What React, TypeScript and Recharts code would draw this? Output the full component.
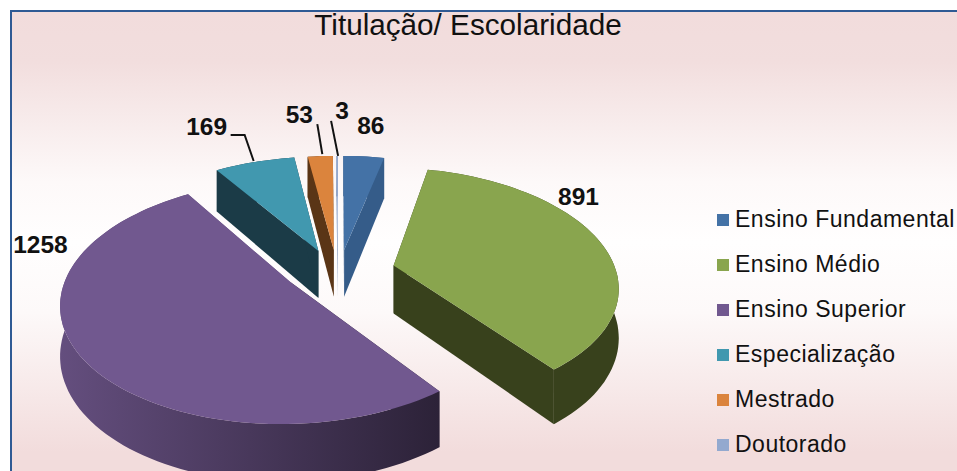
import { Legend, Pie, PieChart } from "recharts";

const names = ["Ensino Fundamental", "Ensino Médio", "Ensino Superior", "Especialização", "Mestrado", "Doutorado"];
const values = [86, 891, 1258, 169, 53, 3];
const topColors = ["#4472a6", "#89a54e", "#71588f", "#4198af", "#db843d", "#93a9cf"];
const wallFrom = ["#355c89", "#38411c", "#644e7e", "#1b3b47", "#5a3516", "#7f93b8"];
const wallTo = ["#355c89", "#38411c", "#2c2238", "#1b3b47", "#5a3516", "#7f93b8"];

// label placement relative to the rim of each slice
const labelDx = [7, -22, -41, -48, -21, 5];
const labelDy = [-22, -37, -104, -27, -33, -37];
const leaders: (string | null)[] = [
  null,
  null,
  null,
  "24,0 38,0 47,26",
  "18,1 23,31",
  "-11,2 -4,37",
];

const data = names.map((name, i) => ({ name, value: values[i], fill: topColors[i] }));

// 3D look: ground plane projected with a little perspective
const CX = 338;
const CY = 270;
const RX = 222;
const RY = 115;
const PERSP = 0.16;
const DEPTH = 48;
const EXPLODE_X = 0.258;
const EXPLODE_Y = 0.18;
const rad = Math.PI / 180;

const project = (u: number, v: number, down = 0): [number, number] => {
  const s = 1 / (1 - PERSP * v);
  return [CX + u * RX * s, CY + v * RY * s + down * s];
};

const apex = (mid: number): [number, number] => [EXPLODE_X * Math.sin(mid * rad), -EXPLODE_Y * Math.cos(mid * rad)];

const rim = (mid: number, a: number, down = 0) => {
  const [u, v] = apex(mid);
  return project(u + Math.sin(a * rad), v - Math.cos(a * rad), down);
};

const toPath = (pts: [number, number][]) =>
  "M" + pts.map((p) => p[0].toFixed(1) + " " + p[1].toFixed(1)).join("L") + "Z";

const Slice3D = (props: any) => {
  const i = names.indexOf(props.name);
  // recharts angles run counter-clockwise from 3 o'clock
  const a0 = 90 - props.startAngle;
  const a1 = 90 - props.endAngle;
  const mid = (a0 + a1) / 2;
  const steps = Math.max(2, Math.ceil((a1 - a0) / 2));
  const angles = Array.from({ length: steps + 1 }, (_, k) => a0 + ((a1 - a0) * k) / steps);
  const [au, av] = apex(mid);
  const topApex = project(au, av);
  const lowApex = project(au, av, DEPTH);
  const arcTop = angles.map((a) => rim(mid, a));
  const arcLow = angles.map((a) => rim(mid, a, DEPTH)).reverse();
  const id = "wall" + i;
  return (
    <g>
      <defs>
        <linearGradient id={id} x1="0" y1="0" x2="1" y2="0">
          <stop offset="0" stopColor={wallFrom[i]} />
          <stop offset="1" stopColor={wallTo[i]} />
        </linearGradient>
      </defs>
      <path d={toPath([topApex, arcTop[0], rim(mid, a0, DEPTH), lowApex])} fill={wallTo[i]} />
      <path d={toPath([topApex, arcTop[steps], rim(mid, a1, DEPTH), lowApex])} fill={wallFrom[i]} />
      <path d={toPath([...arcTop, ...arcLow])} fill={`url(#${id})`} />
      <path d={toPath([topApex, ...arcTop])} fill={topColors[i]} />
    </g>
  );
};

const renderLabel = (props: any) => {
  const i = names.indexOf(props.name);
  const a = 90 - props.midAngle;
  const [x, y] = rim(a, a);
  const lx = x + labelDx[i];
  const ly = y + labelDy[i];
  return (
    <g key={props.name}>
      {leaders[i] && (
        <polyline
          points={leaders[i]!.split(" ").map((p) => {
            const [dx, dy] = p.split(",").map(Number);
            return `${lx + dx},${ly + dy}`;
          }).join(" ")}
          fill="none"
          stroke="#111"
          strokeWidth={2}
        />
      )}
      <text x={lx} y={ly} textAnchor="middle" fontFamily="Liberation Sans" fontWeight="bold" fontSize={24.5} fill="#111">
        {props.value}
      </text>
    </g>
  );
};

const renderLegend = (props: any) => {
  const items = [...(props.payload || [])].sort((a: any, b: any) => names.indexOf(a.value) - names.indexOf(b.value));
  return (
    <div>
      {items.map((entry: any) => (
        <div key={entry.value} style={{ display: "flex", alignItems: "center", height: 45, whiteSpace: "nowrap" }}>
          <span style={{ width: 12, height: 12, background: entry.color, marginRight: 6, flex: "none" }} />
          <span style={{ fontFamily: "Liberation Sans", fontSize: 23, letterSpacing: 0.5, color: "#111" }}>{entry.value}</span>
        </div>
      ))}
    </div>
  );
};

export default function App() {
  return (
    <div style={{ position: "fixed", left: 0, top: 0, width: 957, height: 471, overflow: "hidden", background: "#fff" }}>
      <div
        style={{
          position: "absolute",
          left: 10,
          top: 10,
          width: 945,
          height: 470,
          overflow: "hidden",
          borderTop: "2px solid #2f5a94",
          borderLeft: "2px solid #2f5a94",
          borderRight: "2px solid #2f5a94",
          background:
            "linear-gradient(180deg, #f2dcdc 0px, #f2dede 50px, #fdf9f9 170px, #fffefe 230px, #fdf9f9 300px, #f2dcdc 440px)",
        }}
      />
      <div
        style={{
          position: "absolute",
          left: 12,
          width: 912,
          textAlign: "center",
          top: 8,
          fontFamily: "Liberation Sans",
          fontSize: 29.7,
          color: "#111",
          whiteSpace: "nowrap",
        }}
      >
        Titulação/ Escolaridade
      </div>
      <div style={{ position: "absolute", left: 0, top: 0 }}>
        <PieChart width={957} height={471} margin={{ top: 0, right: 0, bottom: 0, left: 0 }}>
          <Pie
            data={data}
            dataKey="value"
            nameKey="name"
            cx={CX}
            cy={CY}
            outerRadius={RX}
            startAngle={90}
            endAngle={-270}
            stroke="none"
            label={renderLabel}
            labelLine={false}
            shape={Slice3D}
            activeShape={Slice3D}
            inactiveShape={Slice3D}
            isAnimationActive={false}
          />
          <Legend
            layout="vertical"
            align="right"
            verticalAlign="top"
            content={renderLegend}
            wrapperStyle={{ left: 717, top: 197, width: 240 }}
          />
        </PieChart>
      </div>
    </div>
  );
}
